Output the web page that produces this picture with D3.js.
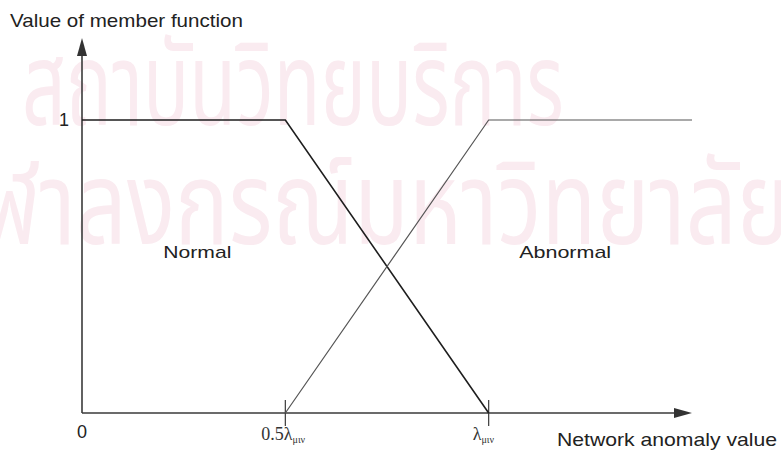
<!DOCTYPE html>
<html>
<head>
<meta charset="utf-8">
<script src="https://cdn.jsdelivr.net/npm/d3@7"></script>
<style>
  html, body { margin: 0; padding: 0; background: #fff; }
  svg { display: block; }
</style>
</head>
<body>
<svg id="chart" width="781" height="462"></svg>
<script>
// Membership functions (x in units of λ, y = degree of membership)
const normalX = [0, 0.5, 1.0];
const normalY = [1, 1, 0];
const abnormalX = [0.5, 1.0, 1.5];
const abnormalY = [0, 1, 1];

// Axis tick positions and their labels
const tickValues = [0.5, 1.0];
const tickMain = ["0.5λ", "λ"];
const tickSub = ["μιν", "μιν"];

// Region labels
const regionLabels = ["Normal", "Abnormal"];
const regionX = [0.2, 1.075];
const regionY = [0.53, 0.53];

// Watermark lines
const watermarkLines = ["สถาบันวิทยบริการ", "จุฬาลงกรณ์มหาวิทยาลัย"];

const svg = d3.select("#chart");
const x = d3.scaleLinear().domain([0, 1.5]).range([82, 692]);
const y = d3.scaleLinear().domain([0, 1]).range([413, 120]);

// Watermark
const wm = svg.append("g").attr("fill", "#faebf0");
wm.append("text").attr("x", 22).attr("y", 125)
  .attr("font-family", "'Noto Sans Thai', 'Noto Sans', sans-serif").attr("font-size", 116)
  .attr("textLength", 542).attr("lengthAdjust", "spacingAndGlyphs")
  .text(watermarkLines[0]);
wm.append("text").attr("x", -68).attr("y", 244)
  .attr("font-family", "'Noto Sans Thai', 'Noto Sans', sans-serif").attr("font-size", 116)
  .attr("textLength", 858).attr("lengthAdjust", "spacingAndGlyphs")
  .text(watermarkLines[1]);

const axisColor = "#3a3a3a";

// Axes
svg.append("line").attr("x1", x(0)).attr("y1", y(0)).attr("x2", x(0)).attr("y2", 50)
  .attr("stroke", axisColor).attr("stroke-width", 1.6);
svg.append("line").attr("x1", x(0)).attr("y1", y(0)).attr("x2", 680).attr("y2", y(0))
  .attr("stroke", axisColor).attr("stroke-width", 1.6);
svg.append("path").attr("d", `M${x(0)},38 L${x(0) - 5},56 L${x(0) + 5},56 Z`).attr("fill", "#333");
svg.append("path").attr("d", `M${x(1.5)},${y(0)} L${x(1.5) - 18},${y(0) - 5} L${x(1.5) - 18},${y(0) + 5} Z`).attr("fill", "#333");

// Tick marks
svg.selectAll("line.tick").data(tickValues).join("line").attr("class", "tick")
  .attr("x1", d => x(d)).attr("x2", d => x(d))
  .attr("y1", y(0) - 13).attr("y2", y(0) + 13)
  .attr("stroke", axisColor).attr("stroke-width", 1.2);

// Membership lines
const line = d3.line().x(d => x(d[0])).y(d => y(d[1]));
svg.append("path").datum(d3.zip(normalX, normalY)).attr("d", line)
  .attr("fill", "none").attr("stroke", "#1e1e1e").attr("stroke-width", 1.6);
svg.append("path").datum(d3.zip(abnormalX, abnormalY)).attr("d", line)
  .attr("fill", "none").attr("stroke", "#555").attr("stroke-width", 1.2);

// Labels
const sans = "'Liberation Sans', Arial, sans-serif";
const serif = "'Liberation Serif', 'Times New Roman', serif";
svg.append("text").attr("x", 10).attr("y", 27).attr("font-family", sans).attr("font-size", 19)
  .attr("textLength", 233).attr("lengthAdjust", "spacingAndGlyphs").attr("fill", "#222")
  .text("Value of member function");
svg.append("text").attr("x", 557).attr("y", 446).attr("font-family", sans).attr("font-size", 19)
  .attr("textLength", 220).attr("lengthAdjust", "spacingAndGlyphs").attr("fill", "#222")
  .text("Network anomaly value");
svg.append("text").attr("x", 59).attr("y", 126).attr("font-family", sans).attr("font-size", 18)
  .attr("fill", "#222").text("1");
svg.append("text").attr("x", 77).attr("y", 438).attr("font-family", sans).attr("font-size", 18)
  .attr("fill", "#222").text("0");

svg.selectAll("text.region").data(regionLabels).join("text").attr("class", "region")
  .attr("x", (d, i) => x(regionX[i])).attr("y", (d, i) => y(regionY[i]))
  .attr("font-family", sans).attr("font-size", 17).attr("fill", "#222")
  .attr("textLength", (d, i) => [68, 92][i]).attr("lengthAdjust", "spacingAndGlyphs")
  .text(d => d);

const tl = svg.selectAll("text.tl").data(tickValues).join("text").attr("class", "tl")
  .attr("x", (d, i) => x(d) - [24, 16][i]).attr("y", 440)
  .attr("font-family", serif).attr("font-size", 18).attr("fill", "#333");
tl.append("tspan").text((d, i) => tickMain[i]);
tl.append("tspan").attr("font-size", 10).attr("dy", 3).text((d, i) => tickSub[i]);
</script>
</body>
</html>
